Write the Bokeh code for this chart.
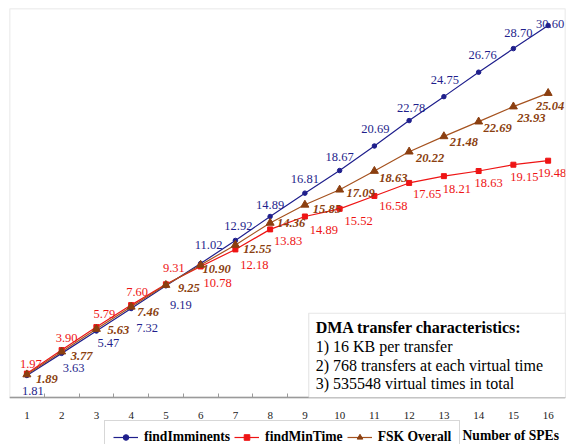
from bokeh.plotting import figure
from bokeh.models import (ColumnDataSource, FixedTicker, Legend, LegendItem,
                          Label, BoxAnnotation, Range1d)
from bokeh.core.properties import value
from bokeh.embed import file_html
from bokeh.resources import INLINE

spes = list(range(1, 17))
find_imminents = [1.81, 3.63, 5.47, 7.32, 9.19, 11.02, 12.92, 14.89, 16.81, 18.67,
                  20.69, 22.78, 24.75, 26.76, 28.70, 30.60]
find_min_time = [1.97, 3.90, 5.79, 7.60, 9.31, 10.78, 12.18, 13.83, 14.89, 15.52,
                 16.58, 17.65, 18.21, 18.63, 19.15, 19.48]
fsk_overall = [1.89, 3.77, 5.63, 7.46, 9.25, 10.90, 12.55, 14.36, 15.85, 17.09,
               18.63, 20.22, 21.48, 22.69, 23.93, 25.04]
tick_labels = [str(v) for v in spes]
box_lines = ["1) 16 KB per transfer",
             "2) 768 transfers at each virtual time",
             "3) 535548 virtual times in total"]

# label placement (screen pixel offsets, styling only)
blue_dx = [6, 12, 12, 16, 15, 8, 3, 0, 0, 0, 1, 2, 1, 4, 5, 2]
blue_dy = [16, 15, 12, 19, 19, -19, -14, -11, -14, -14, -17, -13, -17, -17, -16, -2]
red_dx = [4, 5, 8, 6, 8, 17, 19, 18, 19, 19, 19, 18, 13, 10, 11, 4]
red_dy = [-10, -12, -13, -13, -16, 17, 16, 12, 14, 12, 10, 11, 13, 12, 12, 12]
brn_dx = [20, 20, 22, 17, 23, 16, 22, 21, 22, 21, 19, 21, 20, 19, 18, 2]
brn_dy = [4, 4, 1, 5, 3, 4, 4, 0, 4, 3, 7, 6, 6, 6, 11, 13]

BLUE = "#1f1f8c"
RED = "#ee1414"
BROWN_LINE = "#a5521f"
BROWN = "#8b3f10"
GRAY = "#9a9a9a"
FONT = "Liberation Serif"

Y_TOP = 32
Y_BOTTOM = -47 * Y_TOP / 389.0   # room below the x axis for the legend

p = figure(width=569, height=444, output_backend="svg", toolbar_location=None,
           x_range=Range1d(0.5, 16.5), y_range=Range1d(Y_BOTTOM, Y_TOP),
           y_axis_location=None, min_border_left=9, min_border_right=4,
           min_border_top=8, min_border_bottom=0)
p.grid.visible = False
p.outline_line_color = None

ax = p.xaxis[0]
ax.fixed_location = 0
ax.ticker = FixedTicker(ticks=spes, minor_ticks=[v + 0.5 for v in spes[:-1]])
ax.major_label_overrides = {v: t for v, t in zip(spes, tick_labels)}
ax.major_tick_line_color = None
ax.minor_tick_in = 4
ax.minor_tick_out = 0
ax.minor_tick_line_color = GRAY
ax.axis_line_color = GRAY
ax.axis_line_width = 1.5
ax.major_label_standoff = 8
ax.major_label_text_font = FONT
ax.major_label_text_font_size = "11px"
ax.major_label_text_color = "#222222"

# plot-area border
p.add_layout(BoxAnnotation(left=0.5, right=16.5, bottom=0, top=Y_TOP,
                           fill_alpha=0, line_color=GRAY, line_width=1.5))

src_b = ColumnDataSource(dict(x=spes, y=find_imminents, t=[f"{v:.2f}" for v in find_imminents],
                              dx=blue_dx, dy=blue_dy))
src_r = ColumnDataSource(dict(x=spes, y=find_min_time, t=[f"{v:.2f}" for v in find_min_time],
                              dx=red_dx, dy=red_dy))
src_f = ColumnDataSource(dict(x=spes, y=fsk_overall, t=[f"{v:.2f}" for v in fsk_overall],
                              dx=brn_dx, dy=brn_dy))

lb = p.line("x", "y", source=src_b, line_color=BLUE, line_width=1.2)
mb = p.scatter("x", "y", source=src_b, marker="circle", size=4.5,
               fill_color=BLUE, line_color=BLUE)
lr = p.line("x", "y", source=src_r, line_color=RED, line_width=1.2)
mr = p.scatter("x", "y", source=src_r, marker="square", size=5,
               fill_color=RED, line_color=RED)
lf = p.line("x", "y", source=src_f, line_color=BROWN_LINE, line_width=1.2)
mf = p.scatter("x", "y", source=src_f, marker="triangle", size=8,
               fill_color=BROWN, line_color=BROWN)

common = dict(text_align="center", text_baseline="middle",
              text_font=value(FONT), text_font_size="12.5px")
p.text("x", "y", text="t", source=src_b, x_offset="dx", y_offset="dy",
       text_color=BLUE, **common)
p.text("x", "y", text="t", source=src_r, x_offset="dx", y_offset="dy",
       text_color=RED, **common)
p.text("x", "y", text="t", source=src_f, x_offset="dx", y_offset="dy",
       text_color=BROWN, text_font_style="bold italic", **common)

# info box
p.add_layout(BoxAnnotation(left=9.11, right=16.5, bottom=0, top=6.93,
                           fill_color="white", fill_alpha=1.0,
                           line_color="#b0b0b0", line_width=1.2))
p.add_layout(Label(x=9.31, y=5.78, text="DMA transfer characteristics:",
                   text_font=FONT, text_font_size="16px", text_font_style="bold",
                   text_baseline="middle", text_color="black"))
for i, line in enumerate(box_lines):
    p.add_layout(Label(x=9.31, y=4.21 - i * 1.54, text=line,
                       text_font=FONT, text_font_size="16px",
                       text_baseline="middle", text_color="black"))

legend = Legend(items=[LegendItem(label="findImminents", renderers=[lb, mb]),
                       LegendItem(label="findMinTime", renderers=[lr, mr]),
                       LegendItem(label="FSK Overall", renderers=[lf, mf])],
                orientation="horizontal", location=(95, -10),
                label_text_font=FONT, label_text_font_size="13.6px",
                label_text_font_style="bold", label_text_color="black",
                glyph_width=25, glyph_height=14, label_height=14,
                label_standoff=6, spacing=4, padding=8,
                border_line_color="#b0b0b0", border_line_width=1.2,
                background_fill_alpha=1.0)
p.add_layout(legend, "center")

p.add_layout(Label(x=453, y=9, x_units="screen", y_units="screen",
                   text="Number of SPEs", text_font=FONT, text_font_size="13.6px",
                   text_font_style="bold", text_baseline="middle", text_color="black"))

open("out.html", "w").write(file_html(p, INLINE))
